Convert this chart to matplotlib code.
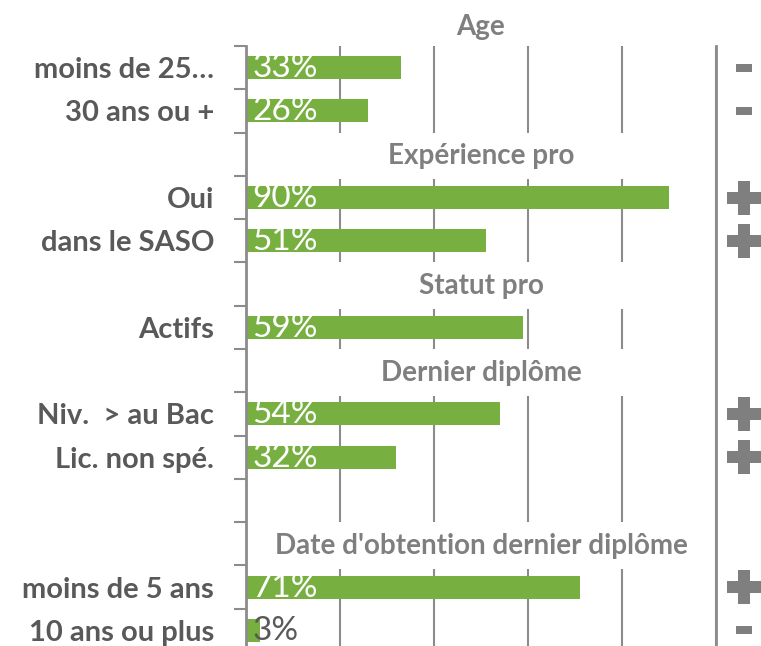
import matplotlib
matplotlib.use("Agg")
import matplotlib.pyplot as plt

plt.rcParams['font.family'] = ['Lato', 'DejaVu Sans']

# categories (row positions in the stacked layout) and values in %
labels = ['moins de 25…', '30 ans ou +', 'Oui', 'dans le SASO', 'Actifs',
          'Niv.  > au Bac', 'Lic. non spé.', 'moins de 5 ans', '10 ans ou plus']
rows = [1, 2, 4, 5, 7, 9, 10, 13, 14]
values = [33, 26, 90, 51, 59, 54, 32, 71, 3]
signs = ['-', '-', '+', '+', '', '+', '+', '+', '-']

headers = ['Age', 'Expérience pro', 'Statut pro', 'Dernier diplôme',
           "Date d'obtention dernier diplôme"]
header_rows = [0, 3, 6, 8, 12]

green = '#77b041'
gray_line = '#8c8c8c'
gray_txt = '#595959'
gray_head = '#7f7f7f'

fig = plt.figure(figsize=(7.61, 6.46), dpi=100)
ax = fig.add_axes([246 / 761, -6 / 646, 470 / 761, 606 / 646])

ax.barh(rows, values, height=0.53, color=green, zorder=2)
ax.set_xlim(0, 100)
ax.set_ylim(14.5, 0.5)

# grid
ax.set_xticks(range(0, 101, 20))
ax.tick_params(axis='x', length=0, labelbottom=False)
ax.grid(axis='x', color=gray_line, linewidth=1.5)
ax.set_axisbelow(True)

# hide gridlines behind section headers
for r in header_rows[1:]:
    ax.axhspan(r - 0.5, r + 0.58, xmin=0.004, xmax=0.996, color='white', zorder=1, lw=0)

for s in ['top', 'bottom']:
    ax.spines[s].set_visible(False)
for s in ['left', 'right']:
    ax.spines[s].set_color(gray_line)
    ax.spines[s].set_linewidth(2)

ax.set_yticks(rows, labels)
ax.tick_params(axis='y', which='major', length=0, pad=23,
               labelsize=21, labelcolor=gray_txt)
for t in ax.get_yticklabels():
    t.set_fontweight('bold')
ax.set_yticks([r + 0.5 for r in range(15)], minor=True)
ax.tick_params(axis='y', which='minor', length=9, width=1.5, color=gray_line)

# value labels
for r, v in zip(rows, values):
    col = 'white' if v >= 10 else gray_txt
    ax.text(1.4, r + 0.22, f'{v}%', color=col, fontsize=24, fontweight='normal',
            va='baseline', ha='left', zorder=3)

# section headers
for r, h in zip(header_rows, headers):
    ax.text(50, r + 0.05, h, color=gray_head, fontsize=20, fontweight='bold',
            ha='center', va='center', zorder=3)

# +/- markers on the right
minus = [(-1, -0.55), (1, -0.55), (1, 0.55), (-1, 0.55), (-1, -0.55)]
for r, s in zip(rows, signs):
    if s == '+':
        ax.plot(106, r, marker='P', markersize=24, color=gray_head,
                markeredgewidth=0, clip_on=False)
    elif s == '-':
        ax.plot(106, r, marker=minus, markersize=11, color=gray_head,
                markeredgewidth=0, clip_on=False)

fig.savefig('out.png', dpi=100)
